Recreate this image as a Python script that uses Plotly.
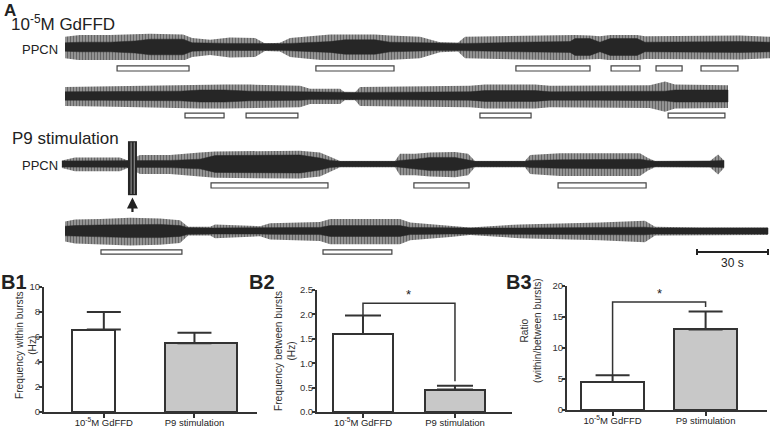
import plotly.graph_objects as go

W, H = 770, 428
FONT = "Liberation Sans, Arial, sans-serif"
INK = "#262626"

# ---------------- Panel A: PPCN recordings ----------------
# time (s), spike-envelope amplitude (a.u.), baseline/noise band amplitude (a.u.)
r1_t = [0, 6.3, 19.0, 29.6, 35.9, 49.9, 53.7, 61.3, 69.7, 80.3, 84.5, 90.8, 95.1, 103.5, 112.0, 118.3,
        131.0, 137.3, 150.0, 158.4, 166.0, 169.0, 183.8, 192.2, 213.4, 215.5, 221.8, 226.0, 230.3,
        241.7, 245.0, 264.0, 285.2, 297.9]
r1_spk = [0.85, 1.0, 1.0, 1.05, 1.1, 1.05, 0.75, 0.6, 0.8, 0.75, 0.3, 0.35, 0.75, 0.9, 1.05, 1.05,
          1.05, 0.95, 0.85, 0.4, 0.35, 0.85, 0.9, 0.95, 1.0, 1.0, 0.95, 0.9, 1.0,
          1.0, 0.9, 0.95, 0.95, 0.85]
r1_core = [0.35, 0.4, 0.4, 0.5, 0.65, 0.65, 0.35, 0.3, 0.3, 0.3, 0.28, 0.28, 0.3, 0.38, 0.45, 0.6,
           0.6, 0.4, 0.35, 0.3, 0.3, 0.3, 0.35, 0.4, 0.45, 0.7, 0.7, 0.4, 0.7,
           0.7, 0.4, 0.45, 0.45, 0.4]

r2_t = [0, 14.8, 31.7, 48.6, 57.0, 67.6, 78.2, 99.3, 103.5, 116.2, 118.3, 122.5, 124.6, 141.5,
        171.1, 177.4, 198.6, 204.9, 226.0, 247.1, 253.5, 257.7, 280.1]
r2_spk = [0.75, 0.8, 0.85, 0.9, 0.95, 0.95, 0.95, 0.85, 0.6, 0.6, 0.3, 0.3, 0.75, 0.8,
          0.85, 0.95, 0.95, 0.85, 0.85, 0.9, 1.2, 0.95, 0.9]
r2_core = [0.35, 0.35, 0.35, 0.4, 0.5, 0.5, 0.4, 0.35, 0.3, 0.28, 0.28, 0.28, 0.3, 0.32,
           0.35, 0.45, 0.45, 0.35, 0.35, 0.38, 0.4, 0.5, 0.5]

r3_t = [-1.3, 4.2, 23.2, 26.6, 31.7, 44.4, 57.0, 63.4, 99.3, 107.7, 112.0, 116.2, 139.4, 141.5,
        147.9, 154.2, 164.8, 170.3, 173.2, 194.3, 196.5, 209.1, 242.9, 246.3, 249.3, 272.5, 275.9, 278.4]
r3_spk = [0.3, 0.55, 0.55, 0.3, 0.75, 0.75, 0.95, 1.05, 1.1, 0.95, 0.6, 0.25, 0.25, 0.85,
          0.85, 0.95, 1.0, 0.85, 0.25, 0.25, 0.75, 0.9, 0.9, 0.5, 0.25, 0.25, 0.8, 0.3]
r3_core = [0.25, 0.25, 0.25, 0.25, 0.3, 0.3, 0.4, 0.7, 0.75, 0.5, 0.3, 0.22, 0.22, 0.3,
           0.4, 0.55, 0.55, 0.35, 0.22, 0.22, 0.3, 0.35, 0.4, 0.3, 0.22, 0.25, 0.3, 0.3]

r4_t = [0, 4.2, 14.8, 27.5, 40.1, 48.6, 52.0, 61.3, 63.4, 82.4, 86.6, 107.7, 112.0, 141.5, 145.8,
        162.7, 171.1, 192.2, 226.0, 245.0, 249.3, 268.3, 297.0]
r4_spk = [0.8, 0.95, 1.0, 1.1, 1.05, 0.9, 0.35, 0.35, 0.55, 0.4, 0.65, 0.75, 1.0, 1.0, 0.7,
          0.45, 0.3, 0.55, 0.7, 0.85, 0.35, 0.3, 0.3]
r4_core = [0.4, 0.45, 0.5, 0.55, 0.55, 0.45, 0.28, 0.25, 0.25, 0.25, 0.28, 0.3, 0.45, 0.45, 0.3,
           0.25, 0.25, 0.25, 0.3, 0.32, 0.25, 0.25, 0.25]

# burst periods (s)
r1_burst_start = [22.0, 106.0, 190.5, 230.7, 249.7, 268.7]
r1_burst_end = [52.4, 139.0, 221.8, 242.9, 260.7, 284.3]
r2_burst_start = [50.7, 76.5, 175.3, 254.8]
r2_burst_end = [67.2, 98.4, 196.9, 278.8]
r3_burst_start = [61.7, 147.4, 208.3]
r3_burst_end = [111.1, 170.7, 245.5]
r4_burst_start = [15.2, 109.0]
r4_burst_end = [49.4, 138.1]

stim_window = [26.6, 30.4]      # P9 stimulation artifact (s)
scale_start, scale_len = 267.0, 30.0

# ---------------- Panel B: summary bars ----------------
groups = ["10<sup>-5</sup>M GdFFD", "P9 stimulation"]
b1_mean, b1_sem = [6.6, 5.5], [1.4, 0.85]
b2_mean, b2_sem = [1.6, 0.46], [0.38, 0.08]
b3_mean, b3_sem = [4.5, 13.0], [1.1, 2.9]
b2_bracket_level, b2_bracket_ends = 2.23, [1.98, 0.63]
b3_bracket_level, b3_bracket_ends = 17.4, [5.6, 16.6]

# ------------------------------------------------------------
PXPS = 2.367            # pixels per second in the traces
T0_PX = 65              # pixel where t = 0


def px(x):
    return x / W


def py(y):
    return 1 - y / H


def row_dom(c, half=36):
    return [1 - (c + half) / H, 1 - (c - half) / H]


fig = go.Figure()

rows = [(r1_t, r1_spk, r1_core, "y"), (r2_t, r2_spk, r2_core, "y2"),
        (r3_t, r3_spk, r3_core, "y3"), (r4_t, r4_spk, r4_core, "y4")]
for t, spk, core, ya in rows:
    xs = list(t) + list(t)[::-1]
    fig.add_trace(go.Scatter(
        x=xs, y=list(spk) + [-v * 1.1 for v in spk[::-1]], xaxis="x", yaxis=ya,
        mode="lines", fill="toself", line=dict(width=0, color="rgba(0,0,0,0)"),
        fillcolor="rgba(0,0,0,0)",
        fillpattern=dict(shape="|", size=3, solidity=0.55, fgcolor="#232323",
                         bgcolor="rgba(80,80,80,0.5)"),
        hoverinfo="skip", showlegend=False))
    fig.add_trace(go.Scatter(
        x=xs, y=list(core) + [-v for v in core[::-1]], xaxis="x", yaxis=ya,
        mode="lines", fill="toself", line=dict(width=0.5, color=INK),
        fillcolor=INK, hoverinfo="skip", showlegend=False))

shapes = []
burst_sets = [(r1_burst_start, r1_burst_end, "y", -1.58, -2.0),
              (r2_burst_start, r2_burst_end, "y2", -1.42, -1.83),
              (r3_burst_start, r3_burst_end, "y3", -1.58, -2.0),
              (r4_burst_start, r4_burst_end, "y4", -1.58, -1.92)]
for starts, ends, ya, y0, y1 in burst_sets:
    for s, e in zip(starts, ends):
        shapes.append(dict(type="rect", xref="x", yref=ya, x0=s, x1=e, y0=y0, y1=y1,
                           line=dict(color="#444", width=1.2), fillcolor="white"))

# stimulation artifact
shapes.append(dict(type="rect", xref="x", yref="y3", x0=stim_window[0], x1=stim_window[1],
                   y0=-2.6, y1=1.9, line=dict(width=0), fillcolor="#262626"))
for frac in (0.35, 0.7):
    xx = stim_window[0] + frac * (stim_window[1] - stim_window[0])
    shapes.append(dict(type="line", xref="x", yref="y3", x0=xx, x1=xx, y0=-2.5, y1=1.8,
                       line=dict(color="#9a9a9a", width=1)))

# scale bar
shapes.append(dict(type="line", xref="x", yref="y4", x0=scale_start, x1=scale_start + scale_len,
                   y0=-1.75, y1=-1.75, line=dict(color="#222", width=2)))
for xx in (scale_start, scale_start + scale_len):
    shapes.append(dict(type="line", xref="x", yref="y4", x0=xx, x1=xx, y0=-1.5, y1=-2.0,
                       line=dict(color="#222", width=2)))

# ---- bar panels
bar_colors = ["#ffffff", "#c8c8c8"]
panels = [
    ("x5", "y5", b1_mean, b1_sem, [0.48, 0.80], [-0.352, -0.33], 17),
    ("x6", "y6", b2_mean, b2_sem, [0.66, 0.66], None, 18),
    ("x7", "y7", b3_mean, b3_sem, [0.67, 0.67], None, 17),
]
for xa, ya, m, s, wd, off, cap in panels:
    fig.add_trace(go.Bar(x=[0, 1], y=m, xaxis=xa, yaxis=ya, width=wd, offset=off,
                         marker=dict(color=bar_colors, line=dict(color="#333", width=2)),
                         hoverinfo="skip", showlegend=False))
    fig.add_trace(go.Scatter(x=[0, 1], y=m, xaxis=xa, yaxis=ya, mode="markers",
                             marker=dict(size=2, color="rgba(0,0,0,0)"),
                             error_y=dict(type="data", symmetric=False, array=s, arrayminus=[0, 0],
                                          color="#333", thickness=2, width=cap),
                             hoverinfo="skip", showlegend=False))

for xa, ya, level, ends in [("x6", "y6", b2_bracket_level, b2_bracket_ends),
                            ("x7", "y7", b3_bracket_level, b3_bracket_ends)]:
    fig.add_trace(go.Scatter(x=[0, 0, 1, 1], y=[ends[0], level, level, ends[1]], xaxis=xa, yaxis=ya,
                             mode="lines", line=dict(color="#333", width=1.5),
                             hoverinfo="skip", showlegend=False))

annotations = [
    dict(text="<b>A</b>", x=px(2), y=py(-1), xanchor="left", yanchor="top", font=dict(size=17)),
    dict(text="10<sup>-5</sup>M GdFFD", x=px(9), y=py(23), xanchor="left", yanchor="middle",
         font=dict(size=17)),
    dict(text="PPCN", x=px(20), y=py(49), xanchor="left", yanchor="middle", font=dict(size=13)),
    dict(text="P9 stimulation", x=px(10), y=py(138), xanchor="left", yanchor="middle",
         font=dict(size=17)),
    dict(text="PPCN", x=px(20), y=py(165), xanchor="left", yanchor="middle", font=dict(size=13)),
    dict(text="<b>B1</b>", x=px(-1), y=py(282), xanchor="left", yanchor="middle", font=dict(size=20)),
    dict(text="<b>B2</b>", x=px(247), y=py(282), xanchor="left", yanchor="middle", font=dict(size=20)),
    dict(text="<b>B3</b>", x=px(504), y=py(282), xanchor="left", yanchor="middle", font=dict(size=20)),
    dict(text="Frequency within bursts<br>(Hz)", x=px(26), y=py(345), textangle=-90,
         xanchor="center", yanchor="middle", font=dict(size=10.2, color="#333")),
    dict(text="Frequency between bursts<br>(Hz)", x=px(285), y=py(351), textangle=-90,
         xanchor="center", yanchor="middle", font=dict(size=10.2, color="#333")),
    dict(text="Ratio<br>(within/between bursts)", x=px(531), y=py(331), textangle=-90,
         xanchor="center", yanchor="middle", font=dict(size=10.2, color="#333")),
    dict(text="30 s", x=scale_start + scale_len / 2, y=-2.7, xref="x", yref="y4",
         xanchor="center", yanchor="middle", font=dict(size=12)),
    dict(text="", x=sum(stim_window) / 2, y=-2.8, xref="x", yref="y3", ax=0, ay=16,
         showarrow=True, arrowhead=2, arrowsize=1, arrowwidth=2.2, arrowcolor="#222"),
    dict(text="*", x=0.5, y=b2_bracket_level, xref="x6", yref="y6", yanchor="bottom",
         font=dict(size=13), yshift=-1),
    dict(text="*", x=0.5, y=b3_bracket_level, xref="x7", yref="y7", yanchor="bottom",
         font=dict(size=13), yshift=-1),
]
for a in annotations:
    a.setdefault("xref", "paper")
    a.setdefault("yref", "paper")
    a.setdefault("showarrow", False)

trace_y = dict(range=[-3, 3], visible=False, anchor="x", fixedrange=True)
bar_x = dict(showline=True, linewidth=2, linecolor="#333", ticks="outside", ticklen=4, tickwidth=2,
             tickcolor="#333", tickvals=[0, 1], ticktext=groups, showgrid=False, zeroline=False,
             tickfont=dict(size=9.5, color="#222"), ticklabelstandoff=-3, automargin=False)
bar_y = dict(showline=True, linewidth=2, linecolor="#333", ticks="outside", ticklen=3, tickwidth=2,
             tickcolor="#333", showgrid=False, zeroline=False, tickfont=dict(size=9.5, color="#333"),
             ticklabelstandoff=-3, automargin=False)

fig.update_layout(
    width=W, height=H, margin=dict(l=0, r=0, t=0, b=0, pad=0, autoexpand=False),
    paper_bgcolor="white", plot_bgcolor="white", showlegend=False,
    font=dict(family=FONT, color="#222"),
    xaxis=dict(domain=[0, 1], range=[-T0_PX / PXPS, (W - T0_PX) / PXPS], visible=False, anchor="y",
               automargin=False),
    yaxis=dict(domain=row_dom(47), **trace_y),
    yaxis2=dict(domain=row_dom(96), **trace_y),
    yaxis3=dict(domain=row_dom(164), **trace_y),
    yaxis4=dict(domain=row_dom(231), **trace_y),
    xaxis5=dict(domain=[px(44), px(257)], range=[-0.66, 1.69], anchor="y5", **bar_x),
    yaxis5=dict(domain=[py(412), py(287)], range=[0, 10], dtick=2, anchor="x5", **bar_y),
    xaxis6=dict(domain=[px(317), px(512)], range=[-0.5, 1.62], anchor="y6", **bar_x),
    yaxis6=dict(domain=[py(412), py(290)], range=[0, 2.5], dtick=0.5, tickformat=".1f",
                anchor="x6", **bar_y),
    xaxis7=dict(domain=[px(567), px(767)], range=[-0.49, 1.66], anchor="y7", **bar_x),
    yaxis7=dict(domain=[py(410), py(286)], range=[0, 20], dtick=5, anchor="x7", **bar_y),
    shapes=shapes, annotations=annotations, bargap=0,
)

fig.write_html("out.html", config={"displayModeBar": False},
               post_script="document.body.style.margin='0px';document.body.style.padding='0px';"
                           "document.body.style.overflow='hidden';")
